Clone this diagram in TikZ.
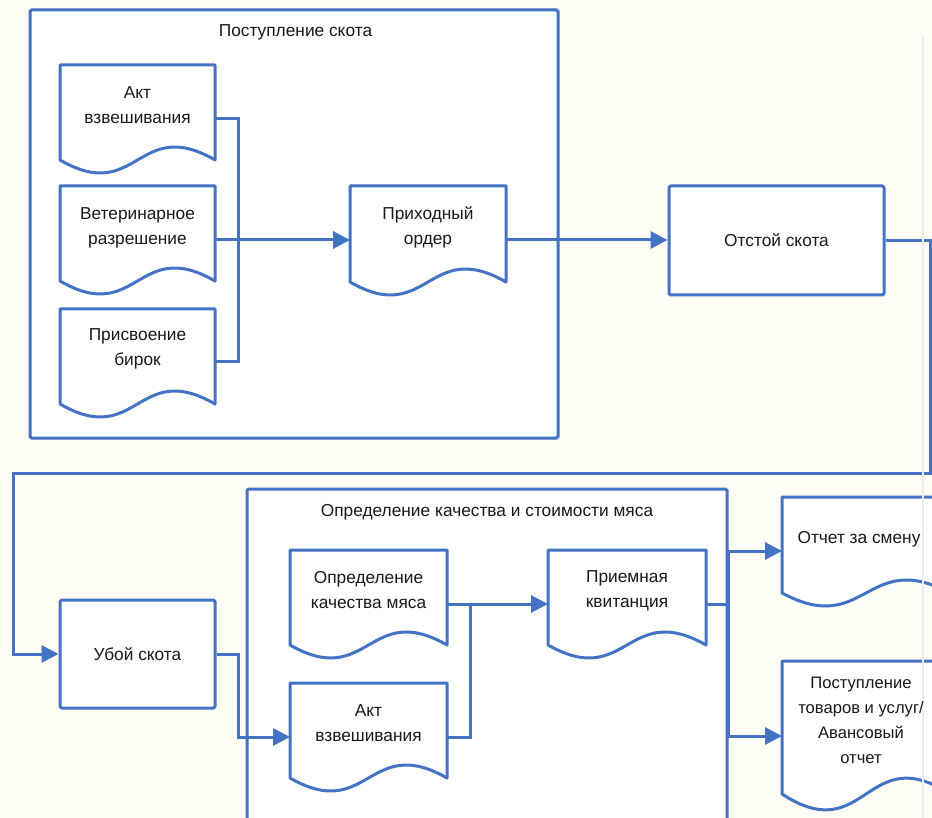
\documentclass[tikz,border=0pt]{standalone}
\usepackage{fontspec}
\setmainfont{Liberation Sans}
\usetikzlibrary{arrows.meta,calc}
\definecolor{lineblue}{RGB}{68,114,196}
\definecolor{bgcream}{RGB}{253,253,245}
\definecolor{txtc}{RGB}{25,25,25}
\definecolor{faintgray}{RGB}{238,238,232}

\tikzset{
  conn/.style={draw=lineblue, line width=3pt},
  arrowconn/.style={conn, -{Triangle[length=17pt,width=17pt]}},
  shapeline/.style={draw=lineblue, line width=3pt, fill=white, line join=round},
  txt/.style={text=txtc, align=center, font=\fontsize{17.3}{25}\selectfont, inner sep=0pt},
  procbox/.style={shapeline, rounded corners=1.5pt, txt},
  groupbox/.style={draw=lineblue, line width=3pt, fill=white, rounded corners=1.5pt}
}

% #1 left x, #2 top y, #3 width, #4 straight height, #5 wave control offset
\newcommand\docshape[5]{%
  \filldraw[shapeline] (#1,#2) -- ({#1+#3},#2) -- ({#1+#3},{#2+#4})
    .. controls ({#1+0.5*#3},{#2+#4-#5}) and ({#1+0.5*#3},{#2+#4+#5}) .. (#1,{#2+#4}) -- cycle;
}

\begin{document}
\begin{tikzpicture}[x=1pt,y=-1pt]
\useasboundingbox (0,0) rectangle (932,818);
\clip (0,0) rectangle (932,818);
\fill[bgcream] (0,0) rectangle (932,818);

% ---------- group 1 ----------
\filldraw[groupbox] (30,10) rectangle (558,438);
\node[txt] (g1title) at (295.5,32) {Поступление скота};

\docshape{60}{65}{155}{95}{45}
\node[txt] (A1) at (137.5,105.5) {Акт\\взвешивания};
\coordinate (A1-e) at (215,119);

\docshape{60}{186}{155}{95}{45}
\node[txt] (A2) at (137.5,227.5) {Ветеринарное\\разрешение};
\coordinate (A2-e) at (215,240);

\docshape{60}{309}{155}{95}{45}
\node[txt] (A3) at (137.5,348.5) {Присвоение\\бирок};
\coordinate (A3-e) at (215,362);

\docshape{350}{186}{156}{96}{45}
\node[txt] (ORD) at (428,227.5) {Приходный\\ордер};
\coordinate (ORD-w) at (350,240);
\coordinate (ORD-e) at (506,240);

\coordinate (j1) at (238,240);
\draw[conn] (A1-e) -| (j1) |- (A3-e);
\draw[arrowconn] (A2-e) -- (ORD-w);

% ---------- Отстой ----------
\node[procbox, minimum width=215pt, minimum height=109pt] (OTS) at (776.5,240.5) {Отстой скота};
\draw[arrowconn] (ORD-e) -- (ORD-e -| OTS.west);

% ---------- Убой ----------
\node[procbox, minimum width=155pt, minimum height=108pt] (UB) at (137.5,654) {Убой скота};
\coordinate (c1) at (930,473);
\coordinate (c2) at (13,473);
\draw[arrowconn] (OTS.east) -| (c1) -- (c2) |- (UB.west);

% ---------- group 2 ----------
\filldraw[groupbox] (247,489) rectangle (727,840);
\node[txt] (g2title) at (487,512) {Определение качества и стоимости мяса};

\docshape{290}{550}{157}{95}{45}
\node[txt] (Q1) at (368.5,590.5) {Определение\\качества мяса};
\coordinate (Q1-e) at (447,604);

\docshape{290}{683}{157}{95}{45}
\node[txt] (Q2) at (368.5,723.5) {Акт\\взвешивания};
\coordinate (Q2-w) at (290,737);
\coordinate (Q2-e) at (447,737);

\docshape{548}{550}{158}{95}{45}
\node[txt] (KV) at (627,590.5) {Приемная\\квитанция};
\coordinate (KV-w) at (548,604);
\coordinate (KV-e) at (706,604);

\coordinate (j2) at (238,700);
\draw[arrowconn] (UB.east) -| (j2) |- (Q2-w);
\coordinate (j3) at (470,604);
\draw[conn] (Q2-e) -| (j3);
\draw[arrowconn] (Q1-e) -- (KV-w);

% ---------- right documents ----------
\docshape{782}{497}{168}{96}{45}
\docshape{782}{661}{168}{133}{55}

% faint screen edge
\draw[faintgray, line width=1.5pt] (923,36) -- (923,818);

\node[txt] (R1) at (859,539) {Отчет за смену};
\coordinate (R1-w) at (782,551);

\node[txt, font=\fontsize{16.6}{25}\selectfont] (R2) at (861,720.5) {Поступление\\товаров и услуг/\\Авансовый\\отчет};
\coordinate (R2-w) at (782,736);

\coordinate (j4) at (728,604);
\draw[arrowconn] (KV-e) -- (j4) |- (R1-w);
\draw[arrowconn] (j4) |- (R2-w);
\end{tikzpicture}
\end{document}
